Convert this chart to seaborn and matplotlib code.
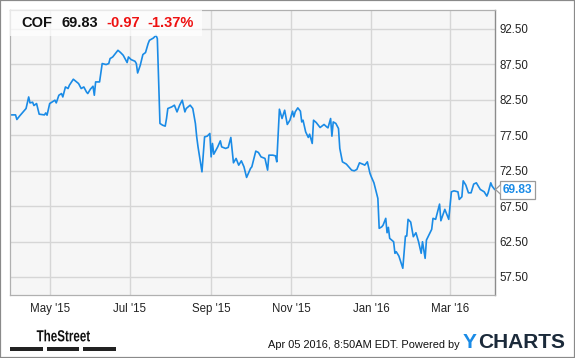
import matplotlib
matplotlib.use('Agg')
import matplotlib.pyplot as plt
import matplotlib.transforms as mtransforms
from matplotlib.patches import Rectangle, Polygon, PathPatch
from matplotlib.textpath import TextPath
from matplotlib.font_manager import FontProperties
import seaborn as sns
import pandas as pd

# ---------------- data ----------------
dates = [
    '2015-04-01', '2015-04-05', '2015-04-06', '2015-04-08', '2015-04-13', '2015-04-15', '2015-04-16',
    '2015-04-18', '2015-04-19', '2015-04-21', '2015-04-23', '2015-04-27', '2015-04-28', '2015-04-29',
    '2015-05-01', '2015-05-05', '2015-05-06', '2015-05-08', '2015-05-10', '2015-05-11', '2015-05-13',
    '2015-05-15', '2015-05-16', '2015-05-19', '2015-05-23', '2015-05-25', '2015-05-27', '2015-05-29',
    '2015-05-30', '2015-06-01', '2015-06-03', '2015-06-04', '2015-06-05', '2015-06-08', '2015-06-10',
    '2015-06-13', '2015-06-15', '2015-06-16', '2015-06-18', '2015-06-20', '2015-06-22', '2015-06-24',
    '2015-06-26', '2015-06-29', '2015-06-30', '2015-07-02', '2015-07-05', '2015-07-06', '2015-07-07',
    '2015-07-09', '2015-07-11', '2015-07-13', '2015-07-15', '2015-07-16', '2015-07-19', '2015-07-21',
    '2015-07-22', '2015-07-24', '2015-07-26', '2015-07-28', '2015-07-29', '2015-07-30', '2015-08-02',
    '2015-08-04', '2015-08-06', '2015-08-08', '2015-08-10', '2015-08-12', '2015-08-13', '2015-08-16',
    '2015-08-18', '2015-08-20', '2015-08-21', '2015-08-22', '2015-08-25', '2015-08-27', '2015-08-29',
    '2015-08-31', '2015-09-01', '2015-09-02', '2015-09-03', '2015-09-06', '2015-09-08', '2015-09-09',
    '2015-09-12', '2015-09-14', '2015-09-16', '2015-09-18', '2015-09-20', '2015-09-22', '2015-09-24',
    '2015-09-26', '2015-09-28', '2015-10-01', '2015-10-02', '2015-10-05', '2015-10-07', '2015-10-09',
    '2015-10-12', '2015-10-14', '2015-10-15', '2015-10-18', '2015-10-20', '2015-10-21', '2015-10-23',
    '2015-10-25', '2015-10-27', '2015-10-29', '2015-10-31', '2015-11-02', '2015-11-03', '2015-11-04',
    '2015-11-06', '2015-11-08', '2015-11-09', '2015-11-10', '2015-11-12', '2015-11-14', '2015-11-15',
    '2015-11-17', '2015-11-18', '2015-11-20', '2015-11-23', '2015-11-26', '2015-11-28', '2015-11-29',
    '2015-12-01', '2015-12-02', '2015-12-03', '2015-12-05', '2015-12-07', '2015-12-08', '2015-12-10',
    '2015-12-13', '2015-12-17', '2015-12-19', '2015-12-21', '2015-12-23', '2015-12-26', '2015-12-27',
    '2015-12-29', '2015-12-31', '2016-01-01', '2016-01-03', '2016-01-06', '2016-01-07', '2016-01-09',
    '2016-01-10', '2016-01-12', '2016-01-13', '2016-01-14', '2016-01-15', '2016-01-18', '2016-01-19',
    '2016-01-20', '2016-01-22', '2016-01-25', '2016-01-27', '2016-01-28', '2016-01-29', '2016-01-31',
    '2016-02-02', '2016-02-04', '2016-02-06', '2016-02-08', '2016-02-09', '2016-02-11', '2016-02-12',
    '2016-02-16', '2016-02-17', '2016-02-19', '2016-02-22', '2016-02-23', '2016-02-26', '2016-02-29',
    '2016-03-02', '2016-03-04', '2016-03-07', '2016-03-08', '2016-03-10', '2016-03-11', '2016-03-13',
    '2016-03-15', '2016-03-17', '2016-03-19', '2016-03-21', '2016-03-24', '2016-03-27', '2016-03-29',
    '2016-03-30', '2016-04-01', '2016-04-02', '2016-04-04',
]
prices = [
    80.36, 80.36, 79.71, 80.18, 81.26, 82.89, 82.05, 82.15, 81.68, 81.96, 80.46, 80.36, 80.64, 80.32,
    81.96, 82.43, 82.05, 83.13, 83.37, 82.89, 84.30, 84.08, 84.54, 85.39, 84.78, 84.08, 84.30, 83.60,
    83.37, 83.98, 84.40, 83.13, 85.01, 85.01, 87.60, 87.46, 87.60, 88.30, 88.53, 89.01, 89.47, 89.15,
    88.77, 87.74, 88.53, 88.16, 87.92, 87.60, 86.27, 87.36, 88.87, 89.15, 90.42, 90.88, 91.20, 91.58,
    91.12, 79.15, 78.91, 78.77, 79.85, 81.26, 81.49, 81.73, 80.78, 81.73, 82.43, 80.78, 81.26, 81.73,
    81.26, 79.15, 77.26, 75.85, 72.33, 77.26, 77.36, 77.74, 74.44, 76.33, 74.82, 75.85, 76.70, 75.85,
    75.63, 75.77, 77.18, 73.60, 74.22, 73.27, 73.88, 73.04, 71.54, 72.81, 73.04, 75.25, 75.06, 74.44,
    74.22, 72.57, 74.68, 74.68, 74.58, 73.74, 81.16, 79.85, 81.02, 79.01, 79.61, 80.88, 80.08, 80.78,
    81.35, 80.88, 79.37, 79.61, 77.96, 77.18, 77.64, 76.33, 79.61, 79.29, 78.58, 79.01, 78.67, 78.53,
    79.85, 77.36, 79.37, 79.15, 78.44, 75.63, 73.74, 73.42, 72.57, 72.47, 72.67, 73.60, 73.37, 73.27,
    73.74, 72.11, 71.63, 70.78, 68.58, 64.36, 64.58, 64.82, 65.77, 63.74, 64.50, 62.95, 62.47, 60.84,
    61.06, 60.46, 58.73, 63.27, 63.27, 65.63, 65.25, 63.18, 63.74, 62.47, 60.84, 62.47, 60.13, 62.71,
    64.22, 65.77, 65.63, 67.78, 65.43, 67.04, 65.63, 69.51, 69.65, 69.51, 68.44, 68.81, 71.06, 70.46,
    69.37, 69.37, 70.60, 70.78, 69.85, 69.51, 68.91, 69.37, 70.78, 70.32, 69.83,
]
y_ticks = [57.5, 62.5, 67.5, 72.5, 77.5, 82.5, 87.5, 92.5]
x_tick_dates = ['2015-05-01', '2015-07-01', '2015-09-01', '2015-11-01', '2016-01-01', '2016-03-01']
x_tick_labels = ["May '15", "Jul '15", "Sep '15", "Nov '15", "Jan '16", "Mar '16"]
ticker = 'COF'
last_price = 69.83
change = '-0.97'
change_pct = '-1.37%'

# ---------------- style ----------------
sns.set_theme(style='white')
plt.rcParams['font.family'] = ['Liberation Sans', 'DejaVu Sans']

LINE_BLUE = '#1a8be6'
W, H = 575, 358

fig = plt.figure(figsize=(W / 100, H / 100), dpi=100)
fig.patch.set_facecolor('white')
ax = fig.add_axes([10.3 / W, 63 / H, 484.4 / W, 284.7 / H])

df = pd.DataFrame({'date': pd.to_datetime(dates), 'price': prices})
sns.lineplot(data=df, x='date', y='price', ax=ax, color=LINE_BLUE, linewidth=1.2, zorder=2)

ax.set_facecolor('#f6f6f6')
ax.set_xlim(pd.Timestamp('2015-04-01'), pd.Timestamp('2016-04-04'))
ax.set_ylim(54.96, 95.11)

ax.set_xticks(pd.to_datetime(x_tick_dates))
ax.set_xticklabels(x_tick_labels)
ax.yaxis.tick_right()
ax.set_yticks(y_ticks)
ax.set_yticklabels([f'{v:.2f}' for v in y_ticks])
ax.tick_params(axis='y', length=0, pad=3.5, labelsize=8.3, labelcolor='#222222')
ax.tick_params(axis='x', length=0, pad=5.5, labelsize=8.3, labelcolor='#222222')
ax.set_xlabel('')
ax.set_ylabel('')
ax.grid(True, color='#d6d6d6', linewidth=1.0)
ax.set_axisbelow(True)
for side in ['left', 'top', 'bottom']:
    ax.spines[side].set_color('#b0b0b0')
    ax.spines[side].set_linewidth(0.9)
ax.spines['right'].set_color('#8c8c8c')
ax.spines['right'].set_linewidth(1.0)

# header box
ax.add_patch(Rectangle((0, 0.910), 0.396, 0.09, transform=ax.transAxes,
                       facecolor='white', alpha=0.72, edgecolor='none', zorder=3))
hy = 1 - 23.3 / H
fig.text(21.7 / W, hy, ticker, fontsize=10.5, fontweight='bold', color='#111111', va='center', ha='left', zorder=5)
fig.text(61 / W, hy, f'{last_price:.2f}', fontsize=10.5, fontweight='bold', color='#111111', va='center', ha='left', zorder=5)
fig.text(106 / W, hy, change, fontsize=10.5, fontweight='bold', color='#ee1111', va='center', ha='left', zorder=5)
fig.text(147 / W, hy, change_pct, fontsize=10.5, fontweight='bold', color='#ee1111', va='center', ha='left', zorder=5)

# last price tag
trans = mtransforms.blended_transform_factory(fig.transFigure, ax.transData)
ax.text(502.5 / W, last_price, f'{last_price:.2f}', transform=trans, fontsize=8.6, fontweight='bold',
        color=LINE_BLUE, va='center', ha='left', clip_on=False, zorder=6,
        bbox=dict(boxstyle='square,pad=0.25', facecolor='white', edgecolor='#9a9a9a', linewidth=0.9))
ty = 1 - 189.5 / H
fig.add_artist(Polygon([(500.3 / W, ty + 4.5 / H), (495.5 / W, ty), (500.3 / W, ty - 4.5 / H)],
                       closed=False, transform=fig.transFigure, facecolor='white',
                       edgecolor='#9a9a9a', linewidth=0.9, zorder=7))

# footer: condensed "TheStreet" wordmark
tp = TextPath((0, 0), 'TheStreet', size=16, prop=FontProperties(family='Liberation Sans', weight='bold'))
ext = tp.get_extents()
sx = 53.3 / ext.width
tr = (mtransforms.Affine2D().translate(-ext.x0, 0).scale(sx / W, 1 / H)
      .translate(36.7 / W, (H - 341.3) / H) + fig.transFigure)
fig.add_artist(PathPatch(tp, transform=tr, facecolor='#111111', edgecolor='none'))
for x0, x1 in [(10.0, 42.7), (47.3, 79.3), (83.3, 116.0)]:
    fig.add_artist(Rectangle((x0 / W, 1 - 350.7 / H), (x1 - x0) / W, 3.6 / H,
                             transform=fig.transFigure, facecolor='#222222', edgecolor='none'))
fig.text(459.5 / W, 1 - 344.5 / H, 'Apr 05 2016, 8:50AM EDT. Powered by', fontsize=7.9,
         color='#111111', va='center', ha='right')
fig.text(463 / W, 1 - 342 / H, 'Y', fontsize=15, fontweight='bold', color=LINE_BLUE, va='center', ha='left')
fig.text(478 / W, 1 - 342 / H, 'CHARTS', fontsize=15, fontweight='bold', color='#1b2a3a', va='center', ha='left')

# outer border
fig.add_artist(Rectangle((0, 0), 1, 1, transform=fig.transFigure, fill=False,
                         edgecolor='#8a8a8a', linewidth=1.6))

fig.savefig('out.png', dpi=100)
